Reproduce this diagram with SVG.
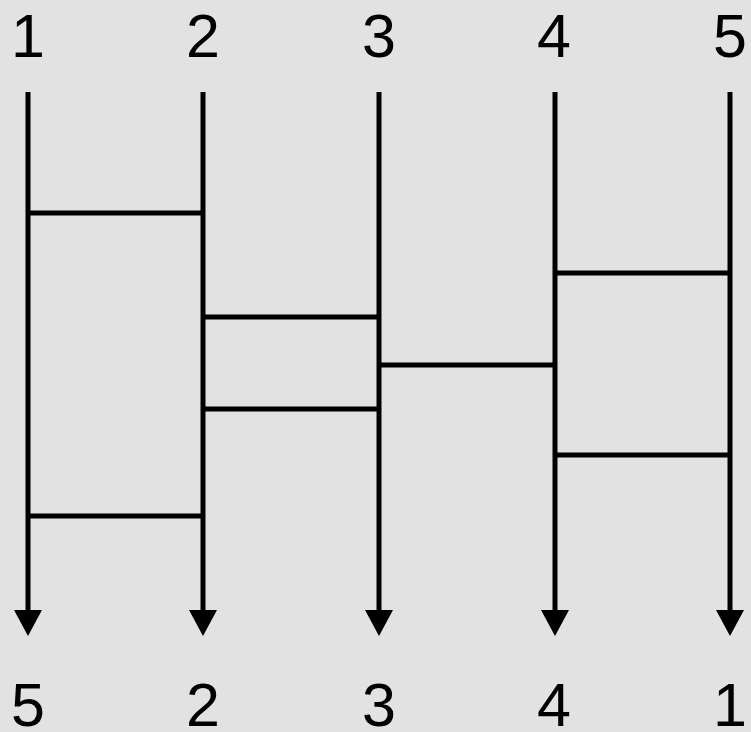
<svg xmlns="http://www.w3.org/2000/svg" width="751" height="732" viewBox="0 0 751 732">
<defs>
<marker id="arr" markerWidth="26" markerHeight="28" refX="15" refY="14" orient="auto" markerUnits="userSpaceOnUse" viewBox="0 0 26 28">
<path d="M0,0 L26,14 L0,28 Z" fill="#000"/>
</marker>
</defs>
<style>
.bg{fill:#e2e2e2}
.v{stroke:#000;stroke-width:5;fill:none}
.r{stroke:#000;stroke-width:5}
.t{font-family:"Liberation Sans",Arial,sans-serif;font-size:61px;fill:#000;text-anchor:middle}
</style>
<rect class="bg" x="0" y="0" width="751" height="732"/>
<g id="labels-top">
<text class="t" x="28" y="57">1</text>
<text class="t" x="203" y="57">2</text>
<text class="t" x="379" y="57">3</text>
<text class="t" x="554" y="57">4</text>
<text class="t" x="730" y="57">5</text>
</g>
<g id="connectors">
<line class="v" x1="28" y1="92" x2="28" y2="625" marker-end="url(#arr)"/>
<line class="v" x1="203" y1="92" x2="203" y2="625" marker-end="url(#arr)"/>
<line class="v" x1="379" y1="92" x2="379" y2="625" marker-end="url(#arr)"/>
<line class="v" x1="555" y1="92" x2="555" y2="625" marker-end="url(#arr)"/>
<line class="v" x1="730" y1="92" x2="730" y2="625" marker-end="url(#arr)"/>
<line class="r" x1="28" y1="213" x2="203" y2="213"/>
<line class="r" x1="28" y1="516" x2="203" y2="516"/>
<line class="r" x1="203" y1="317" x2="379" y2="317"/>
<line class="r" x1="203" y1="409" x2="379" y2="409"/>
<line class="r" x1="379" y1="365" x2="555" y2="365"/>
<line class="r" x1="555" y1="273" x2="730" y2="273"/>
<line class="r" x1="555" y1="455" x2="730" y2="455"/>
</g>
<g id="labels-bottom">
<text class="t" x="28" y="726">5</text>
<text class="t" x="203" y="726">2</text>
<text class="t" x="379" y="726">3</text>
<text class="t" x="554" y="726">4</text>
<text class="t" x="730" y="726">1</text>
</g>
</svg>
